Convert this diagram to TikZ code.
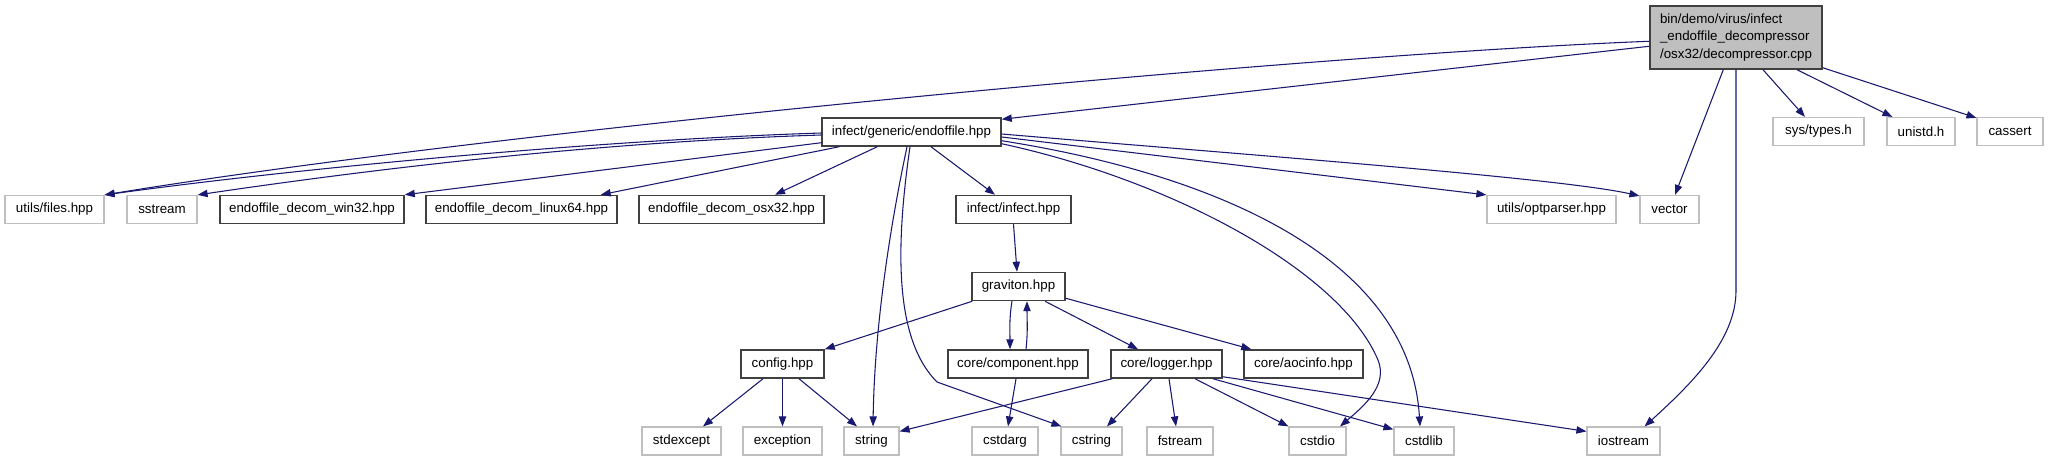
\documentclass[tikz,border=0pt]{standalone}
\usepackage{fontspec}
\setmainfont{Liberation Sans}
\usetikzlibrary{arrows.meta,calc}
\definecolor{edgec}{HTML}{191970}
\definecolor{extc}{HTML}{BFBFBF}
\definecolor{docc}{HTML}{404040}
\begin{document}
\begin{tikzpicture}[x=0.75pt,y=-0.75pt,
  base/.style={rectangle,inner sep=0pt,minimum height=21pt,font=\fontsize{10}{12}\selectfont,anchor=center},
  doc/.style={base,draw=docc,line width=1.1pt,fill=white},
  ext/.style={base,draw=extc,line width=0.9pt,fill=white},
  wd/.style={minimum width=#1*0.75pt},
  edge/.style={draw=edgec,line width=0.8pt,-{Triangle[length=7.5pt,width=5.5pt]}}]
\useasboundingbox[fill=white] (0,0) rectangle (2048,461);
% main
\node[base,draw=docc,fill=extc,line width=1.1pt,minimum width=129pt,minimum height=47.25pt,align=left,font=\fontsize{10}{13.1}\selectfont] (M) at (1736,37.5) {bin/demo/virus/infect\\\_endoffile\_decompressor\\/osx32/decompressor.cpp};
% level 1
\node[doc,wd=179] (E) at (911.5,132) {infect/generic/endoffile.hpp};
\node[ext,wd=91] (systypes) at (1818.5,131.5) {sys/types.h};
\node[ext,wd=68] (unistd) at (1921,131.5) {unistd.h};
\node[ext,wd=66] (cassert) at (2010,131.5) {cassert};
% level 2
\node[ext,wd=99] (files) at (54.5,209.5) {utils/files.hpp};
\node[ext,wd=70] (sstream) at (162,209.5) {sstream};
\node[doc,wd=184] (win32) at (312,209.5) {endoffile\_decom\_win32.hpp};
\node[doc,wd=191] (linux64) at (521.5,209.5) {endoffile\_decom\_linux64.hpp};
\node[doc,wd=185] (osx32) at (731.5,209.5) {endoffile\_decom\_osx32.hpp};
\node[doc,wd=115] (infect) at (1013.5,209.5) {infect/infect.hpp};
\node[ext,wd=129] (optparser) at (1551.5,209.5) {utils/optparser.hpp};
\node[ext,wd=59] (vector) at (1669.5,209.5) {vector};
% level 3
\node[doc,wd=93] (G) at (1018.5,286.5) {graviton.hpp};
% level 4
\node[doc,wd=83] (config) at (782.5,364) {config.hpp};
\node[doc,wd=140] (component) at (1018,364) {core/component.hpp};
\node[doc,wd=111] (logger) at (1166.5,364) {core/logger.hpp};
\node[doc,wd=119] (aocinfo) at (1303.5,364) {core/aocinfo.hpp};
% level 5
\node[ext,wd=79] (stdexcept) at (681.5,441) {stdexcept};
\node[ext,wd=79] (exception) at (782.5,441) {exception};
\node[ext,wd=55] (string) at (871.5,441) {string};
\node[ext,wd=66] (cstdarg) at (1005,441) {cstdarg};
\node[ext,wd=61] (cstring) at (1091.5,441) {cstring};
\node[ext,wd=66] (fstream) at (1180,441) {fstream};
\node[ext,wd=57] (cstdio) at (1317.5,441) {cstdio};
\node[ext,wd=60] (cstdlib) at (1424,441) {cstdlib};
\node[ext,wd=73] (iostream) at (1623.5,441) {iostream};
% edges from main
\draw[edge] ($(M.north west)+(0,36)$) .. controls (1300,55) and (500,130) .. (files.north east);
\draw[edge] ($(M.north west)+(0,41)$) -- ($(E.north east)+(0,2)$);
\draw[edge] ($(M.south west)+(74,0)$) -- ($(vector.north)+(5.5,0)$);
\coordinate (Mbend) at ($(M.south)+(0,221)$);
\draw[edge] (M.south) -- (Mbend) .. controls +(0,50) and (1690,385) .. ($(iostream.north east)+(-16,0)$);
\draw[edge] ($(M.south)+(27,0)$) -- ($(systypes.north)+(-13.5,0)$);
\draw[edge] ($(M.south)+(61,0)$) -- ($(unistd.north west)+(6,0)$);
\draw[edge] ($(M.south east)+(0,-2)$) -- ($(cassert.north west)+(0,1)$);
% edges from endoffile.hpp
\draw[edge] ($(E.west)+(0,1)$) .. controls (600,140) and (300,168) .. (files.north east);
\draw[edge] ($(E.west)+(0,3)$) .. controls (600,142) and (380,168) .. (sstream.north east);
\draw[edge] ($(E.south west)+(0,-4)$) -- (win32.north east);
\draw[edge] ($(E.south west)+(18,0)$) -- ($(linux64.north east)+(-17,0)$);
\draw[edge] ($(E.south west)+(56,0)$) -- ($(osx32.north)+(43.5,0)$);
\draw[edge] ($(E.south)+(19.5,0)$) -- ($(infect.north)+(-18.5,0)$);
\draw[edge] ($(E.south)+(-4.5,0)$) .. controls (900,180) and (875,300) .. ($(string.north)+(1.5,0)$);
\coordinate (cskink) at (937,382);
\draw[edge] ($(E.south)+(-1.5,0)$) .. controls (895,250) and (895,340) .. (cskink) -- ($(cstring.north west)+(1,0)$);
\coordinate (cdmid) at (1378,360);
\draw[edge] ($(E.south east)+(0,-3)$) .. controls (1170,180) and (1340,270) .. (cdmid) .. controls (1388,385) and (1365,405) .. ($(cstdio.north)+(22.5,0)$);
\draw[edge] ($(E.south east)+(0,-6)$) .. controls (1220,175) and (1410,260) .. ($(cstdlib.north)+(-4,0)$);
\draw[edge] ($(E.east)+(0,5)$) -- (optparser.north west);
\draw[edge] ($(E.east)+(0,2)$) .. controls (1250,155) and (1560,178) .. ($(vector.north west)+(0,1)$);
% graviton
\draw[edge] (infect.south) -- ($(G.north)+(-1.5,0)$);
\draw[edge] ($(G.south west)+(1,0)$) -- (config.north east);
\draw[edge] ($(G.south)+(-6.5,0)$) .. controls +(-3,18) and +(0,-18) .. ($(component.north)+(-8,0)$);
\draw[edge] ($(component.north)+(8,0)$) .. controls +(2,-18) and +(0,18) .. ($(G.south)+(8.5,0)$);
\draw[edge] ($(G.south)+(26.5,0)$) -- ($(logger.north)+(-28.5,0)$);
\draw[edge] ($(G.south east)+(0,-3)$) -- ($(aocinfo.north west)+(8,0)$);
% config
\draw[edge] ($(config.south)+(-19.5,0)$) -- ($(stdexcept.north)+(21.5,0)$);
\draw[edge] (config.south) -- (exception.north);
\draw[edge] ($(config.south)+(16.5,0)$) -- ($(string.north)+(-14.5,0)$);
% component
\draw[edge] ($(component.south)+(-2,0)$) -- ($(cstdarg.north)+(3,0)$);
% logger
\draw[edge] ($(logger.south west)+(2,0)$) -- ($(string.north east)+(0,5)$);
\draw[edge] ($(logger.south)+(-14.5,0)$) -- ($(cstring.north)+(15.5,0)$);
\draw[edge] ($(logger.south)+(2.5,0)$) -- ($(fstream.north)+(-4,0)$);
\draw[edge] ($(logger.south)+(28.5,0)$) -- (cstdio.north west);
\draw[edge] ($(logger.south)+(46.5,0)$) -- ($(cstdlib.north west)+(0,3)$);
\draw[edge] ($(logger.south east)+(0,-2)$) -- ($(iostream.north west)+(0,5)$);
\end{tikzpicture}
\end{document}
